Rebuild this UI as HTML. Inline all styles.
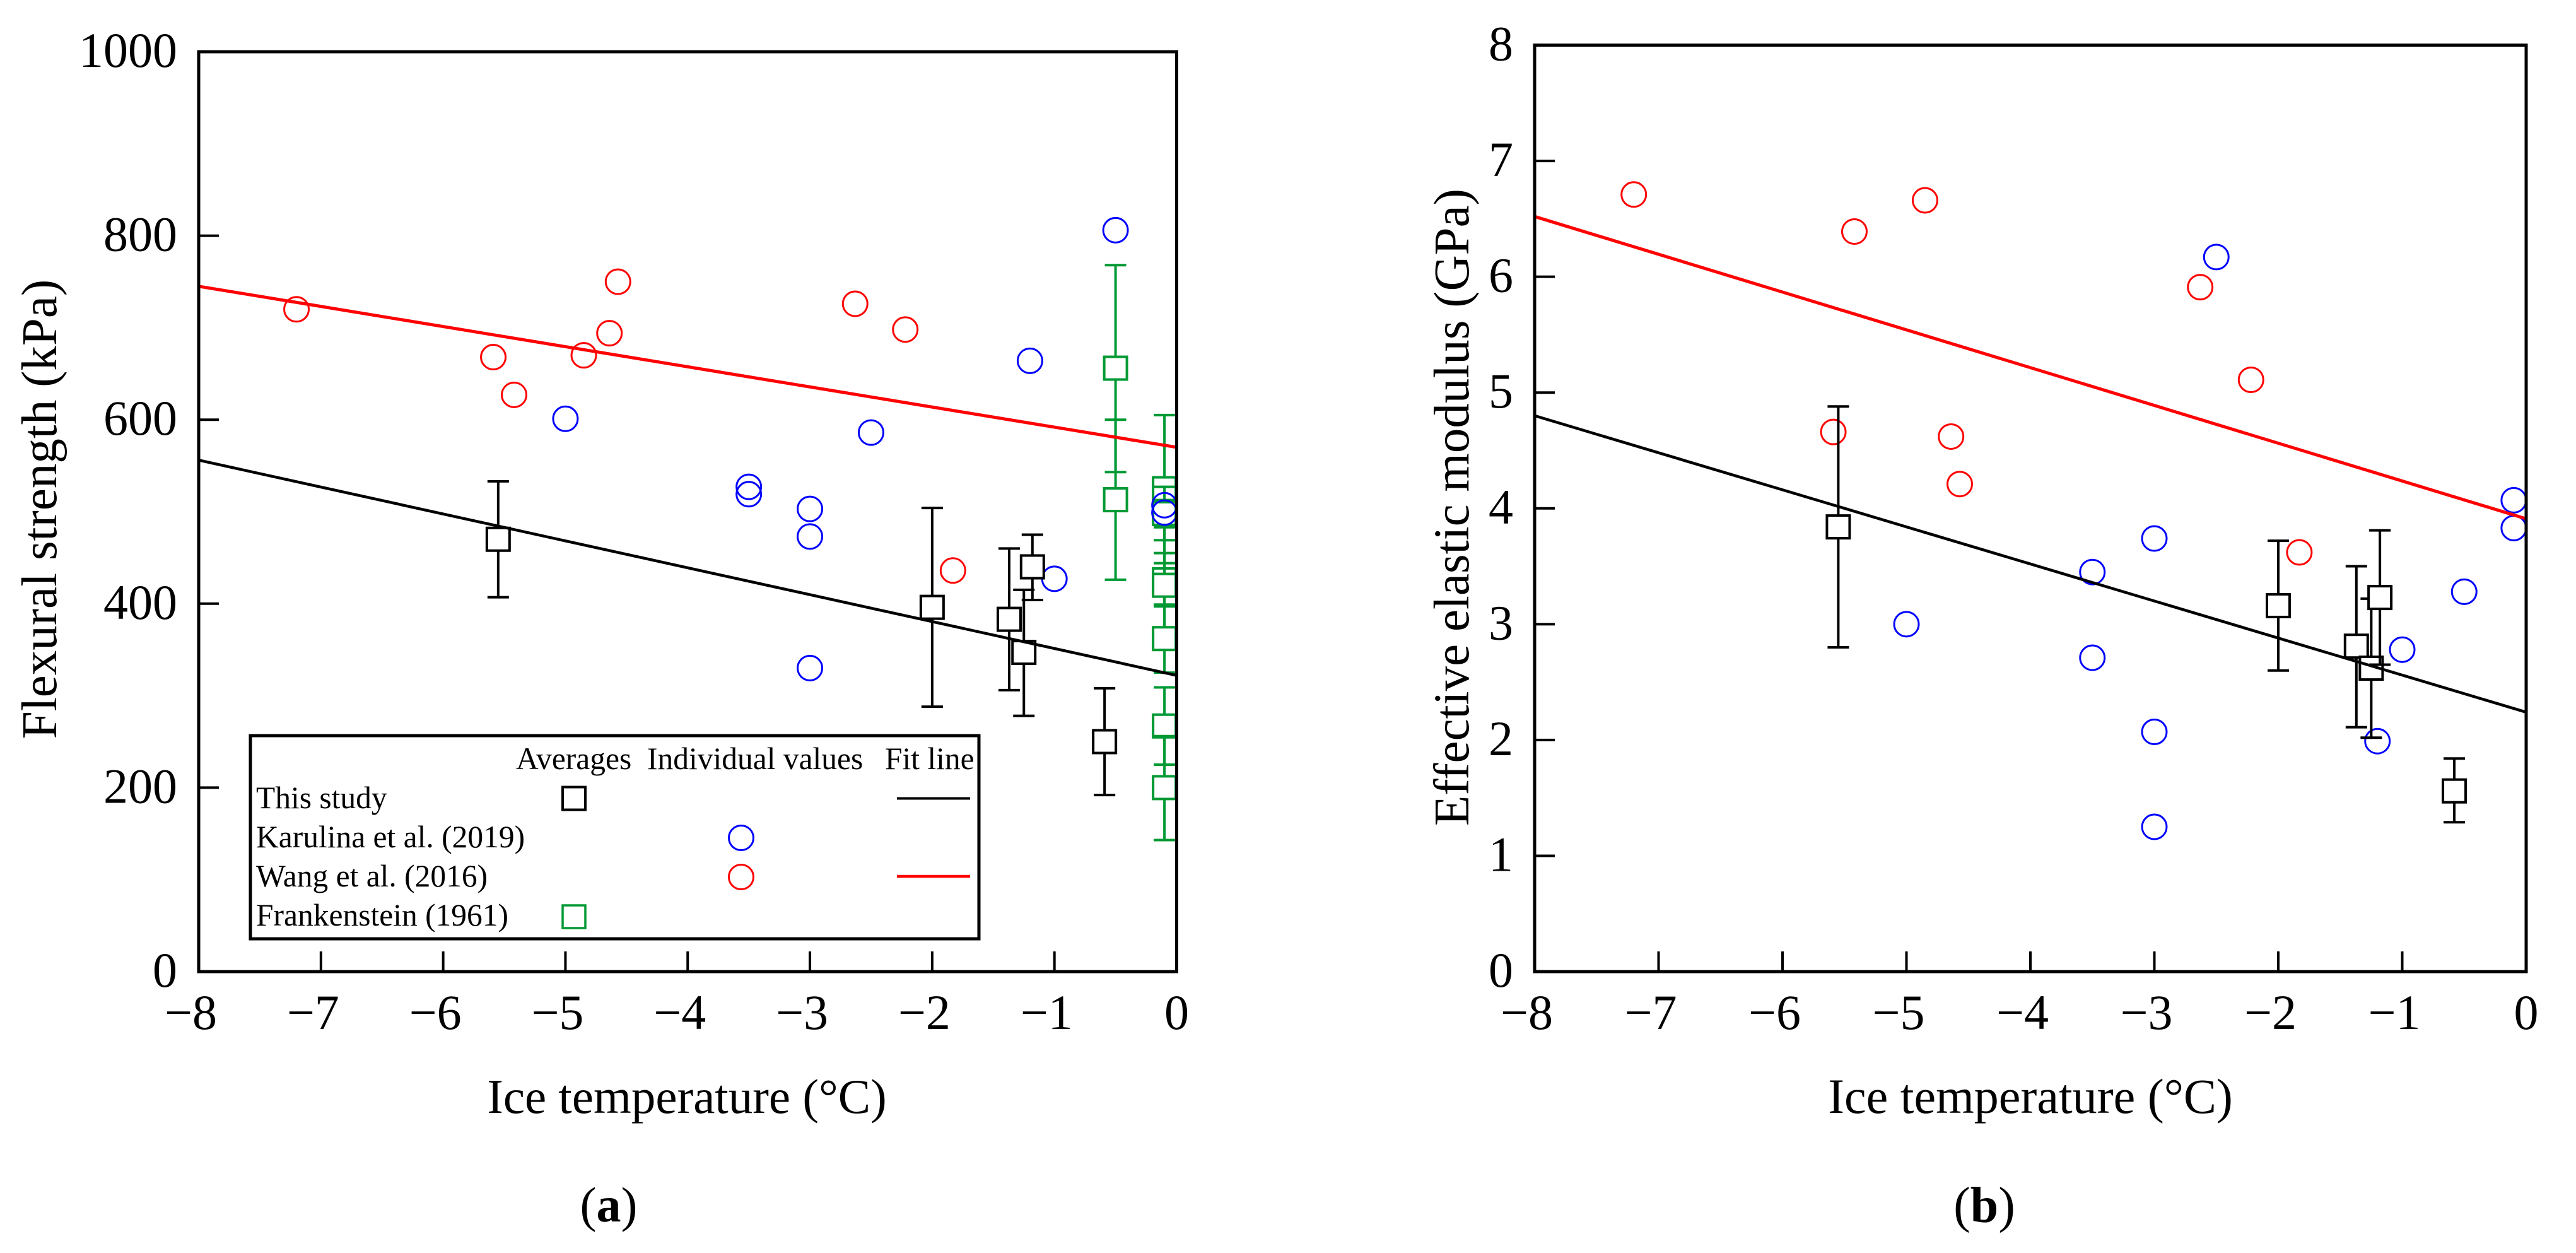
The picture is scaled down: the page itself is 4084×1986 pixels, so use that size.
<!DOCTYPE html>
<html lang="en">
<head>
<meta charset="utf-8">
<title>Flexural strength and effective elastic modulus versus ice temperature</title>
<style>
html,body{margin:0;padding:0;background:#fff;width:4084px;height:1986px;overflow:hidden}
svg{display:block}
text{font-family:"Liberation Serif",serif;fill:#000}
</style>
</head>
<body>
<svg id="figure" xmlns="http://www.w3.org/2000/svg" width="4084" height="1986" viewBox="0 0 4084 1986">
  <rect width="4084" height="1986" fill="#fff"/>
  <g id="panel-a"></g>
  <g id="panel-b"></g>

  <text transform="translate(89 807) rotate(-90)" text-anchor="middle" font-size="79">Flexural strength (kPa)</text>
  <text x="1089" y="1764" text-anchor="middle" font-size="77">Ice temperature (°C)</text>
  <text x="965" y="1936" text-anchor="middle" font-size="78">(<tspan font-weight="bold">a</tspan>)</text>

  <text transform="translate(2328 804) rotate(-90)" text-anchor="middle" font-size="79">Effective elastic modulus (GPa)</text>
  <text x="3219" y="1764" text-anchor="middle" font-size="78">Ice temperature (°C)</text>
  <text x="3146" y="1937" text-anchor="middle" font-size="80">(<tspan font-weight="bold">b</tspan>)</text>

  <g id="legend">
    <rect x="397" y="1166" width="1155" height="322" fill="#fff" stroke="#000" stroke-width="5"/>
    <text x="818" y="1219" font-size="49.5">Averages</text>
    <text x="1026" y="1219" font-size="49.5">Individual values</text>
    <text x="1403" y="1219" font-size="49.5">Fit line</text>
    <text x="406" y="1281" font-size="49.5">This study</text>
    <text x="406" y="1343" font-size="49.5">Karulina et al. (2019)</text>
    <text x="406" y="1405" font-size="49.5">Wang et al. (2016)</text>
    <text x="406" y="1467" font-size="49.5">Frankenstein (1961)</text>
    <rect x="892" y="1247.5" width="36" height="36" fill="#fff" stroke="#000" stroke-width="4"/>
    <rect x="892" y="1435" width="36" height="36" fill="#fff" stroke="#009933" stroke-width="3.5"/>
    <circle cx="1175" cy="1328" r="19.5" fill="none" stroke="#0000ff" stroke-width="3"/>
    <circle cx="1175" cy="1390" r="19.5" fill="none" stroke="#ff0000" stroke-width="3"/>
    <line x1="1422" x2="1538" y1="1265.5" y2="1265.5" stroke="#000" stroke-width="4"/>
    <line x1="1422" x2="1538" y1="1389" y2="1389" stroke="#ff0000" stroke-width="4.5"/>
  </g>
</svg>

<script>
// Shared axis data
const xTicks = [-8, -7, -6, -5, -4, -3, -2, -1, 0];
const fitTemps = [-8, 0];

// Panel (a): flexural strength, kPa
const strengthTicks = [0, 200, 400, 600, 800, 1000];
const strengthFitBlack = [556, 322];
const strengthFitRed = [745, 570];
const strengthStudyTemps = [-5.55, -2.0, -1.37, -1.25, -1.18, -0.59];
const strengthStudyValues = [470, 396, 383, 347, 440, 250];
const strengthStudyUpper = [533, 504, 460, 415, 475, 308];
const strengthStudyLower = [407, 288, 306, 278, 404, 192];
const strengthFrankTemps = [-0.5, -0.5, -0.1, -0.1, -0.1, -0.1, -0.1, -0.1, -0.1];
const strengthFrankValues = [656, 513, 525, 498, 426, 420, 362, 267, 200];
const strengthFrankUpper = [768, 600, 605, 527, 455, 483, 399, 309, 256];
const strengthFrankLower = [543, 426, 444, 469, 397, 357, 325, 225, 143];
const strengthKarulinaTemps = [-5, -3.5, -3.5, -3, -3, -3, -2.5, -1.2, -1, -0.5, -0.1, -0.1];
const strengthKarulinaValues = [601, 527, 519, 503, 473, 330, 586, 664, 427, 806, 507, 499];
const strengthWangTemps = [-7.2, -5.59, -5.42, -4.85, -4.64, -4.57, -2.63, -2.22, -1.83];
const strengthWangValues = [720, 668, 627, 670, 694, 750, 726, 698, 436];

// Panel (b): effective elastic modulus, GPa
const modulusTicks = [0, 1, 2, 3, 4, 5, 6, 7, 8];
const modulusFitBlack = [4.80, 2.24];
const modulusFitRed = [6.52, 3.91];
const modulusStudyTemps = [-5.55, -2.0, -1.37, -1.25, -1.18, -0.58];
const modulusStudyValues = [3.84, 3.16, 2.81, 2.62, 3.23, 1.56];
const modulusStudyUpper = [4.88, 3.72, 3.50, 3.22, 3.81, 1.84];
const modulusStudyLower = [2.80, 2.60, 2.11, 2.02, 2.65, 1.29];
const modulusKarulinaTemps = [-5, -3.5, -3.5, -3, -3, -3, -2.5, -1.2, -1, -0.5, -0.1, -0.1];
const modulusKarulinaValues = [3.0, 3.45, 2.71, 3.74, 2.07, 1.25, 6.17, 1.99, 2.78, 3.28, 4.07, 3.83];
const modulusWangTemps = [-7.2, -5.59, -5.42, -4.85, -4.64, -4.57, -2.63, -2.22, -1.83];
const modulusWangValues = [6.71, 4.66, 6.39, 6.66, 4.62, 4.21, 5.91, 5.11, 3.62];

const SVGNS = 'http://www.w3.org/2000/svg';
const BLACK = '#000000', RED = '#ff0000', BLUE = '#0000ff', GREEN = '#009933';

function make(parent, tag, props) {
  const node = document.createElementNS(SVGNS, tag);
  for (const key in props) node.setAttribute(key, props[key]);
  parent.appendChild(node);
  return node;
}

function drawErrorSquares(g, sc, label, color, temps, values, upper, lower) {
  const half = 18, cap = 17;
  temps.forEach(function (t, i) {
    const px = sc.x(t);
    const group = make(g, 'g', { stroke: color, 'stroke-width': 4, fill: 'none' });
    
    
    const stem = make(group, 'line', { x1: px, x2: px, y1: sc.y(upper[i]), y2: sc.y(lower[i]) });
    
    
    const capTop = make(group, 'line', { x1: px - cap, x2: px + cap, y1: sc.y(upper[i]), y2: sc.y(upper[i]) });
    
    
    const capBottom = make(group, 'line', { x1: px - cap, x2: px + cap, y1: sc.y(lower[i]), y2: sc.y(lower[i]) });
    
    
    const box = make(group, 'rect', { x: px - half, y: sc.y(values[i]) - half, width: half * 2, height: half * 2, fill: '#fff' });
    
    
  });
}

function drawCircles(g, sc, label, color, temps, values) {
  temps.forEach(function (t, i) {
    const c = make(g, 'circle', { cx: sc.x(t), cy: sc.y(values[i]), r: 19.5, fill: 'none', stroke: color, 'stroke-width': 3 });
    
    
  });
}

function drawFit(g, sc, label, color, width, values) {
  const l = make(g, 'line', {
    x1: sc.x(fitTemps[0]), y1: sc.y(values[0]),
    x2: sc.x(fitTemps[1]), y2: sc.y(values[1]),
    stroke: color, 'stroke-width': width
  });
  
  
}

function drawAxes(g, sc, box, yTicks, labelRight) {
  const frame = make(g, 'rect', {
    x: box.left, y: box.top, width: box.right - box.left, height: box.bottom - box.top,
    fill: 'none', stroke: '#000', 'stroke-width': 5
  });
  
  

  xTicks.forEach(function (t, i) {
    const px = sc.x(t);
    if (i > 0 && i < xTicks.length - 1) {
      const tick = make(g, 'line', { x1: px, x2: px, y1: box.bottom, y2: box.bottom - 32, stroke: '#000', 'stroke-width': 4 });
      
      
    }
    const label = make(g, 'text', {
      x: t < 0 ? px + 29 : px,
      y: box.bottom + 91,
      'text-anchor': t < 0 ? 'end' : 'middle',
      'font-size': 78
    });
    label.textContent = t < 0 ? '\u2212' + Math.abs(t) : String(t);
    
    
  });

  yTicks.forEach(function (v, i) {
    const py = sc.y(v);
    if (i > 0 && i < yTicks.length - 1) {
      const tick = make(g, 'line', { x1: box.left, x2: box.left + 32, y1: py, y2: py, stroke: '#000', 'stroke-width': 4 });
      
      
    }
    const label = make(g, 'text', { x: labelRight, y: py + 24, 'text-anchor': 'end', 'font-size': 78 });
    label.textContent = String(v);
    
    
  });
}

function scales(box, yMax) {
  return {
    x: function (t) { return box.left + (t - xTicks[0]) / (xTicks[xTicks.length - 1] - xTicks[0]) * (box.right - box.left); },
    y: function (v) { return box.bottom - v / yMax * (box.bottom - box.top); }
  };
}

// Panel (a)
(function () {
  const g = document.getElementById('panel-a');
  const box = { left: 315, right: 1865.5, top: 82, bottom: 1540 };
  const sc = scales(box, strengthTicks[strengthTicks.length - 1]);
  drawErrorSquares(g, sc, 'frankenstein', GREEN, strengthFrankTemps, strengthFrankValues, strengthFrankUpper, strengthFrankLower);
  drawCircles(g, sc, 'karulina', BLUE, strengthKarulinaTemps, strengthKarulinaValues);
  drawCircles(g, sc, 'wang', RED, strengthWangTemps, strengthWangValues);
  drawErrorSquares(g, sc, 'this-study', BLACK, strengthStudyTemps, strengthStudyValues, strengthStudyUpper, strengthStudyLower);
  drawFit(g, sc, 'fit-line-wang', RED, 5, strengthFitRed);
  drawFit(g, sc, 'fit-line-this-study', BLACK, 4.5, strengthFitBlack);
  drawAxes(g, sc, box, strengthTicks, 281);
})();

// Panel (b)
(function () {
  const g = document.getElementById('panel-b');
  const box = { left: 2433, right: 4005, top: 71.5, bottom: 1540 };
  const sc = scales(box, modulusTicks[modulusTicks.length - 1]);
  drawCircles(g, sc, 'karulina', BLUE, modulusKarulinaTemps, modulusKarulinaValues);
  drawCircles(g, sc, 'wang', RED, modulusWangTemps, modulusWangValues);
  drawErrorSquares(g, sc, 'this-study', BLACK, modulusStudyTemps, modulusStudyValues, modulusStudyUpper, modulusStudyLower);
  drawFit(g, sc, 'fit-line-wang', RED, 5, modulusFitRed);
  drawFit(g, sc, 'fit-line-this-study', BLACK, 4.5, modulusFitBlack);
  drawAxes(g, sc, box, modulusTicks, 2399);
})();
</script>
</body>
</html>
